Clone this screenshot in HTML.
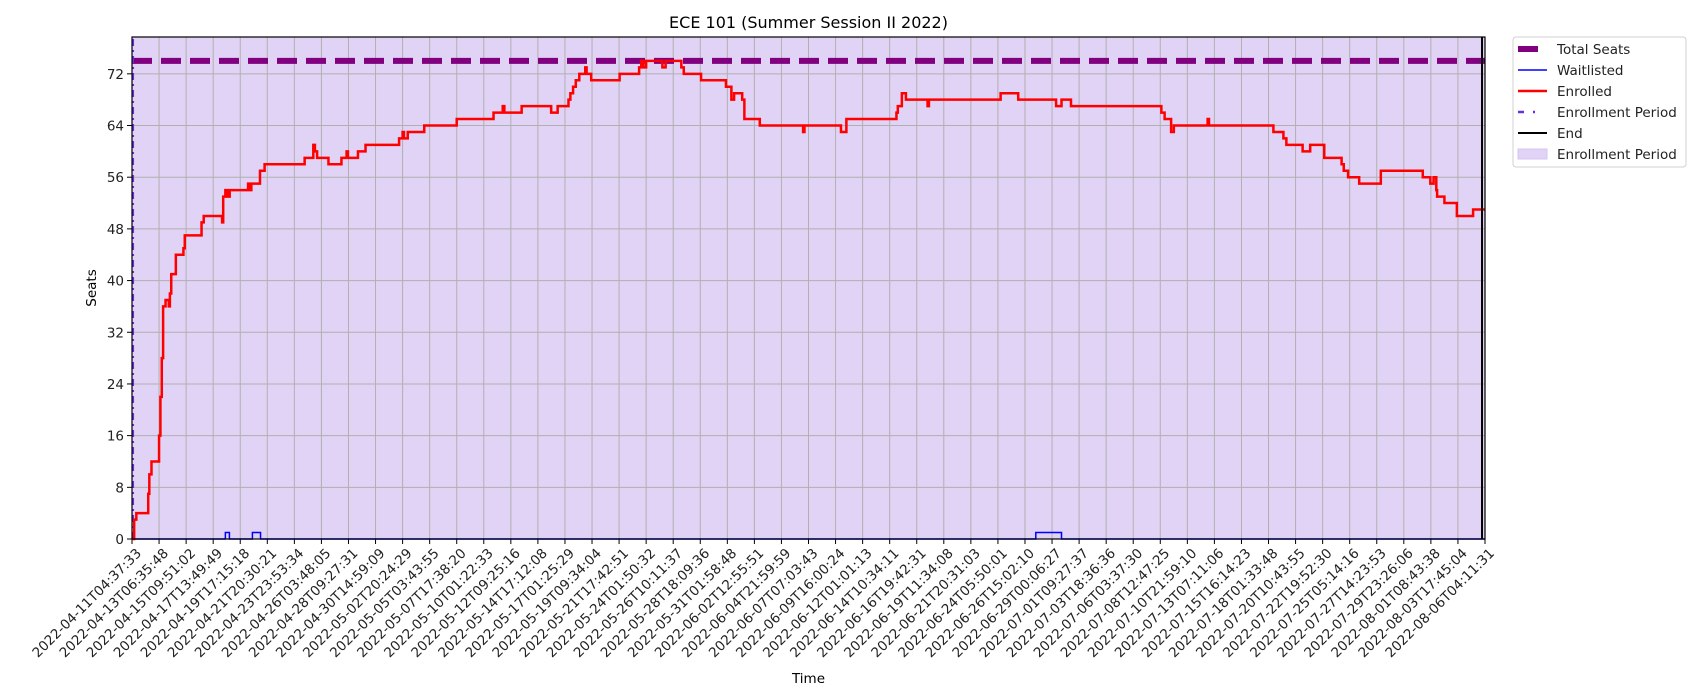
<!DOCTYPE html>
<html><head><meta charset="utf-8"><style>
body{margin:0;background:#fff}
svg{display:block;font-family:"DejaVu Sans","Liberation Sans",sans-serif}
</style></head><body>
<svg id="chart" width="1700" height="700" viewBox="0 0 1700 700"></svg>
<script>
const tickLabels=["2022-04-11T04:37:33","2022-04-13T06:35:48","2022-04-15T09:51:02","2022-04-17T13:49:49","2022-04-19T17:15:18","2022-04-21T20:30:21","2022-04-23T23:53:34","2022-04-26T03:48:05","2022-04-28T09:27:31","2022-04-30T14:59:09","2022-05-02T20:24:29","2022-05-05T03:43:55","2022-05-07T17:38:20","2022-05-10T01:22:33","2022-05-12T09:25:16","2022-05-14T17:12:08","2022-05-17T01:25:29","2022-05-19T09:34:04","2022-05-21T17:42:51","2022-05-24T01:50:32","2022-05-26T10:11:37","2022-05-28T18:09:36","2022-05-31T01:58:48","2022-06-02T12:55:51","2022-06-04T21:59:59","2022-06-07T07:03:43","2022-06-09T16:00:24","2022-06-12T01:01:13","2022-06-14T10:34:11","2022-06-16T19:42:31","2022-06-19T11:34:08","2022-06-21T20:31:03","2022-06-24T05:50:01","2022-06-26T15:02:10","2022-06-29T00:06:27","2022-07-01T09:27:37","2022-07-03T18:36:36","2022-07-06T03:37:30","2022-07-08T12:47:25","2022-07-10T21:59:10","2022-07-13T07:11:06","2022-07-15T16:14:23","2022-07-18T01:33:48","2022-07-20T10:43:55","2022-07-22T19:52:30","2022-07-25T05:14:16","2022-07-27T14:23:53","2022-07-29T23:26:06","2022-08-01T08:43:38","2022-08-03T17:45:04","2022-08-06T04:11:31"];
const yTicks=[0,8,16,24,32,40,48,56,64,72];
const totalSeats=74;
const endIndex=49.89;
const periodStart=0.03;
const enrolledX=[0,0.08,0.16,0.6,0.64,0.72,1.0,1.05,1.1,1.15,1.24,1.36,1.4,1.45,1.62,1.9,1.95,2.57,2.65,3.33,3.37,3.45,3.53,3.61,4.29,4.36,4.41,4.73,4.9,6.38,6.7,6.76,6.84,7.26,7.74,7.93,7.98,8.35,8.63,9.87,10.0,10.05,10.19,10.8,12.0,13.36,13.7,13.76,14.4,15.49,15.73,16.13,16.2,16.3,16.4,16.53,16.75,16.8,16.97,18.02,18.74,18.82,18.9,19.0,19.6,19.72,20.3,20.39,21.03,21.95,22.15,22.25,22.55,22.63,23.2,24.8,24.85,26.2,26.4,28.25,28.3,28.45,28.6,29.4,29.45,32.1,32.75,34.15,34.35,34.7,38.04,38.16,38.4,38.5,38.84,39.75,39.8,42.18,42.55,42.66,43.26,43.54,44.06,44.7,44.78,44.94,45.35,46.15,47.7,47.98,48.1,48.2,48.23,48.5,48.96,49.56,50];
const enrolledY=[0,3,4,7,10,12,16,22,28,36,37,36,38,41,44,45,47,49,50,49,53,54,53,54,55,54,55,57,58,59,61,60,59,58,59,60,59,60,61,62,63,62,63,64,65,66,67,66,67,66,67,68,69,70,71,72,73,72,71,72,73,74,73,74,73,74,73,72,71,70,68,69,68,65,64,63,64,63,65,66,67,69,68,67,68,69,68,67,68,67,66,65,63,64,64,65,64,63,62,61,60,61,59,58,57,56,55,57,56,55,56,54,53,52,50,51,51];
const waitX=[0,3.45,3.6,4.45,4.75,33.4,34.35,50];
const waitY=[0,1,0,1,0,1,0,0];

const L=132,R=1485,T=37,B=539,YMAX=77.7,NT=50;
const xs=u=>L+(R-L)*u/NT;
const ys=v=>B-(B-T)*v/YMAX;
const svg=document.getElementById('chart');
const NS='http://www.w3.org/2000/svg';
function mk(tag,attrs,parent){const e=document.createElementNS(NS,tag);for(const k in attrs)e.setAttribute(k,attrs[k]);(parent||svg).appendChild(e);return e;}

const bg=mk('rect',{x:L,y:T,width:R-L,height:B-T,fill:'#e1d3f5'});



tickLabels.forEach((t,i)=>{
  const x=xs(i);
  const g=mk('line',{x1:x,x2:x,y1:T,y2:B,stroke:'#b0b0b0','stroke-width':1});
  
  
  const tk=mk('line',{x1:x,x2:x,y1:B,y2:B+5,stroke:'#000','stroke-width':1});
  
  
  const tx=mk('text',{transform:`translate(${x+3},${B+8}) rotate(-45)`,x:0,y:10,'text-anchor':'end','font-size':13.5,fill:'#222'});
  tx.textContent=t;
  
  
});
yTicks.forEach(v=>{
  const y=ys(v);
  const g=mk('line',{x1:L,x2:R,y1:y,y2:y,stroke:'#b0b0b0','stroke-width':1});
  
  
  const tk=mk('line',{x1:L-5,x2:L,y1:y,y2:y,stroke:'#000','stroke-width':1});
  
  
  const tx=mk('text',{x:L-8,y:y+5,'text-anchor':'end','font-size':13.5,fill:'#222'});
  tx.textContent=v;
  
  
});

const ts=mk('line',{x1:L,x2:R,y1:ys(totalSeats),y2:ys(totalSeats),stroke:'#800080','stroke-width':6,'stroke-dasharray':'20 9'});



const ep=mk('line',{x1:xs(periodStart),x2:xs(periodStart),y1:B,y2:T,stroke:'#6a2ee0','stroke-width':2.5,'stroke-dasharray':'7 4 2 4'});



function stepPath(X,Y){let d=`M${xs(X[0])},${ys(Y[0])}`;for(let i=1;i<X.length;i++){d+=`H${xs(X[i])}V${ys(Y[i])}`;}return d;}
const wl=mk('path',{d:stepPath(waitX,waitY),fill:'none',stroke:'#0000ff','stroke-width':1.5});


const en=mk('path',{d:stepPath(enrolledX,enrolledY),fill:'none',stroke:'#ff0000','stroke-width':2.5,'stroke-linejoin':'miter'});



const endL=mk('line',{x1:xs(endIndex),x2:xs(endIndex),y1:T,y2:B,stroke:'#000','stroke-width':2});



const frame=mk('rect',{x:L,y:T,width:R-L,height:B-T,fill:'none',stroke:'#000','stroke-width':1.2});



const title=mk('text',{x:(L+R)/2,y:28,'text-anchor':'middle','font-size':16,fill:'#000'});
title.textContent='ECE 101 (Summer Session II 2022)';


const xl=mk('text',{x:(L+R)/2,y:683,'text-anchor':'middle','font-size':13.5,fill:'#000'});
xl.textContent='Time';


const yl=mk('text',{transform:`translate(96,${(T+B)/2}) rotate(-90)`,'text-anchor':'middle','font-size':13.5,fill:'#000'});
yl.textContent='Seats';



const lg=mk('g',{});


mk('rect',{x:1513,y:37,width:173,height:130,rx:3,fill:'#fff',stroke:'#d0d0d0'},lg);
const entries=[['Total Seats','ts'],['Waitlisted','wl'],['Enrolled','en'],['Enrollment Period','ep'],['End','end'],['Enrollment Period','shade']];
entries.forEach((e,i)=>{
  const y=49+i*21;
  const g=mk('g',{},lg);
  
  
  if(e[1]==='ts')mk('line',{x1:1518,x2:1538,y1:y,y2:y,stroke:'#800080','stroke-width':6},g);
  if(e[1]==='wl')mk('line',{x1:1518,x2:1547,y1:y,y2:y,stroke:'#0000ff','stroke-width':1.5},g);
  if(e[1]==='en')mk('line',{x1:1518,x2:1547,y1:y,y2:y,stroke:'#ff0000','stroke-width':2.5},g);
  if(e[1]==='ep')mk('line',{x1:1518,x2:1547,y1:y,y2:y,stroke:'#6a2ee0','stroke-width':2.5,'stroke-dasharray':'6 9 2 20'},g);
  if(e[1]==='end')mk('line',{x1:1518,x2:1547,y1:y,y2:y,stroke:'#000','stroke-width':2},g);
  if(e[1]==='shade')mk('rect',{x:1518,y:y-5,width:29,height:10,fill:'#e1d3f5',stroke:'#d6c4f2'},g);
  const t=mk('text',{x:1557,y:y+5,'font-size':13.5,fill:'#222'},g);
  t.textContent=e[0];
});
</script>
</body></html>
